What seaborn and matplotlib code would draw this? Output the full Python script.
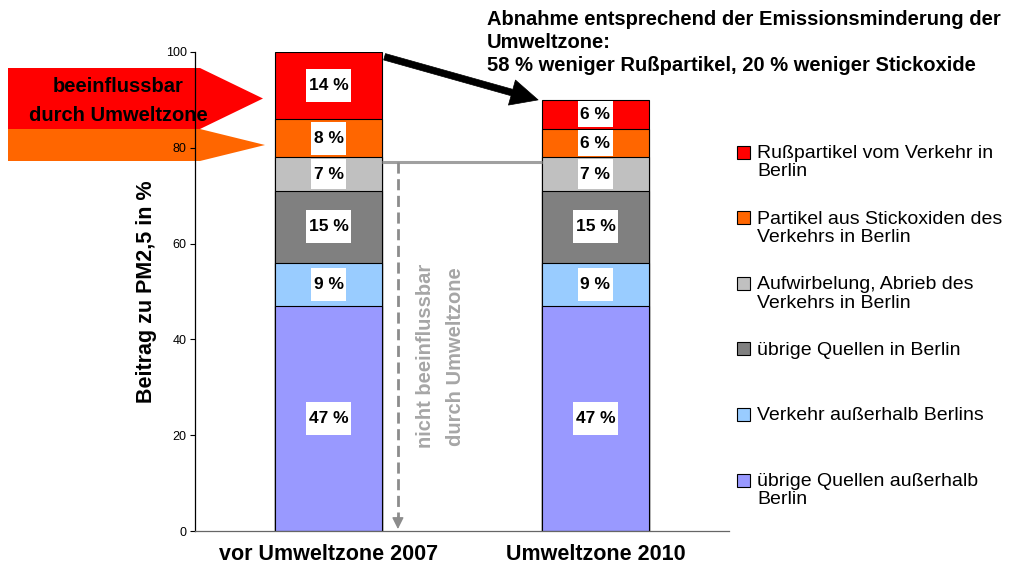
import matplotlib.pyplot as plt
import seaborn as sns
import pandas as pd
import numpy as np
from matplotlib.path import Path
from matplotlib.patches import Polygon, Rectangle

# --- Daten ---
categories = ['vor Umweltzone 2007', 'Umweltzone 2010']
sources = ['übrige Quellen außerhalb\nBerlin',
           'Verkehr außerhalb Berlins',
           'übrige Quellen in Berlin',
           'Aufwirbelung, Abrieb des\nVerkehrs in Berlin',
           'Partikel aus Stickoxiden des\nVerkehrs in Berlin',
           'Rußpartikel vom Verkehr in\nBerlin']
values_2007 = [47, 9, 15, 7, 8, 14]
values_2010 = [47, 9, 15, 7, 6, 6]
colors = ['#9999FF', '#99CCFF', '#808080', '#C0C0C0', '#FF6600', '#FF0000']
level_line = 77  # grau: nicht beeinflussbar

title = ('Abnahme entsprechend der Emissionsminderung der\nUmweltzone:\n'
         '58 % weniger Rußpartikel, 20 % weniger Stickoxide')

rows = []
for cat, vals in zip(categories, [values_2007, values_2010]):
    top = np.cumsum(vals)
    for src, v, t in zip(sources, vals, top):
        rows.append({'category': cat, 'source': src, 'value': v, 'top': t})
df = pd.DataFrame(rows)

sns.set_style('white')
plt.rcParams['font.family'] = ['Liberation Sans', 'DejaVu Sans']
plt.rcParams.update({'text.color': 'black', 'axes.labelcolor': 'black',
                     'xtick.color': 'black', 'ytick.color': 'black'})

W, H = 1011, 573
def fpx(x, y):
    return (x / W, 1 - y / H)

fig = plt.figure(figsize=(W / 100, H / 100), dpi=100)
ax = fig.add_axes([195 / W, 42 / H, 534 / W, 479 / H])
ax.set_facecolor('none')

bar_w = 0.4
# gestapelt: von oben nach unten übereinander zeichnen
for i in reversed(range(len(sources))):
    sub = df[df['source'] == sources[i]]
    sns.barplot(data=sub, x='category', y='top', order=categories, color=colors[i],
                width=bar_w, saturation=1, edgecolor='black', linewidth=0.8,
                errorbar=None, ax=ax)

ax.set_xlim(-0.5, 1.5)
ax.set_ylim(0, 100)
ax.set_yticks(range(0, 101, 20))
ax.set_xlabel('')
ax.set_ylabel('Beitrag zu PM2,5 in %', fontsize=15.5, fontweight='bold')
ax.yaxis.set_label_coords(-0.071, 0.5)
ax.set_xticks([0, 1])
ax.set_xticklabels(categories, fontsize=15.5, fontweight='bold')
ax.set_xticks([-0.5, 0.5, 1.5], minor=True)
ax.tick_params(axis='x', which='major', length=0, pad=9)
ax.tick_params(axis='x', which='minor', length=4, width=0.8, color='#666666', direction='out')
ax.tick_params(axis='y', length=3.5, width=0.8, color='black', labelsize=9, pad=2.5, direction='out', left=True)
for s in ['top', 'right']:
    ax.spines[s].set_visible(False)
ax.spines['left'].set_color('black')
ax.spines['left'].set_linewidth(0.9)
ax.spines['bottom'].set_color('#666666')
ax.spines['bottom'].set_linewidth(0.9)

# Beschriftungen in weißen Kästchen
px_per_unit = ax.transData.transform((0, 1))[1] - ax.transData.transform((0, 0))[1]

def make_box(seg_px):
    box_h = min(33, seg_px - 3)
    def box(x0, y0, width, height, mutation_size):
        padx = 0.14 * mutation_size
        cy = y0 + height / 2
        return Path([(x0 - padx, cy - box_h / 2), (x0 + width + padx, cy - box_h / 2),
                     (x0 + width + padx, cy + box_h / 2), (x0 - padx, cy + box_h / 2),
                     (x0 - padx, cy - box_h / 2)], closed=True)
    return box

for xi, cat in enumerate(categories):
    sub = df[df['category'] == cat]
    for _, r in sub.iterrows():
        ax.text(xi, r['top'] - r['value'] / 2, f"{r['value']} %", ha='center', va='center',
                fontsize=12.5, fontweight='bold', zorder=5,
                bbox=dict(boxstyle=make_box(r['value'] * px_per_unit), fc='white', ec='none'))

# schwarzer Pfeil
tot07, tot10 = sum(values_2007), sum(values_2010)
ax.annotate('', xy=(1 - bar_w / 2 - 0.015, tot10), xytext=(bar_w / 2 + 0.01, tot07 - 1),
            arrowprops=dict(arrowstyle='simple,head_length=1.15,head_width=1.1,tail_width=0.28',
                            mutation_scale=17, fc='black', ec='black', lw=0.5, shrinkA=0, shrinkB=0),
            annotation_clip=False)

# graue Linie + gestrichelter Pfeil
ax.plot([bar_w / 2, 1 - bar_w / 2], [level_line, level_line], color='#a0a0a0', lw=2.2,
        solid_capstyle='butt', zorder=4)
x_dash = 0.26
ax.plot([x_dash, x_dash], [level_line, 2.5], color='#8c8c8c', lw=2, ls=(0, (4, 2)), zorder=4)
ax.annotate('', xy=(x_dash, 0.4), xytext=(x_dash, 3),
            arrowprops=dict(arrowstyle='-|>,head_length=0.5,head_width=0.25', mutation_scale=14,
                            color='#8c8c8c', lw=1, shrinkA=0, shrinkB=0))
ax.text(0.42, 36.5, 'nicht beeinflussbar\ndurch Umweltzone', rotation=90, ha='center', va='center',
        fontsize=14.5, fontweight='bold', color='#a6a6a6', linespacing=1.7, multialignment='center')

# linke Pfeile
red_arrow = [(8, 68), (200, 68), (263, 98.5), (200, 129), (8, 129)]
orange_arrow = [(8, 129), (200, 129), (265, 145), (200, 161), (8, 161)]
for pts, c in [(orange_arrow, '#FF6600'), (red_arrow, '#FF0000')]:
    fig.patches.append(Polygon([fpx(*p) for p in pts], closed=True, transform=fig.transFigure,
                               fc=c, ec='none', zorder=-1))
x, y = fpx(118, 77)
fig.text(x, y, 'beeinflussbar\ndurch Umweltzone', ha='center', va='top', fontsize=14.5,
         fontweight='bold', linespacing=1.66, multialignment='center')

# Titel
x, y = fpx(487, 10)
fig.text(x, y, title, ha='left', va='top', fontsize=14.5, fontweight='bold', linespacing=1.27)

# Legende (oben = oberstes Segment)
for k, i in enumerate(reversed(range(len(sources)))):
    yc = 152 + 65.6 * k
    x0, y0 = fpx(737, yc + 6.5)
    fig.patches.append(Rectangle((x0, y0), 13 / W, 13 / H, transform=fig.transFigure,
                                 fc=colors[i], ec='black', lw=0.8))
    x, y = fpx(757, yc - 7)
    fig.text(x, y, sources[i], ha='left', va='top', fontsize=14, linespacing=1.1)

plt.savefig('out.png', dpi=100)
